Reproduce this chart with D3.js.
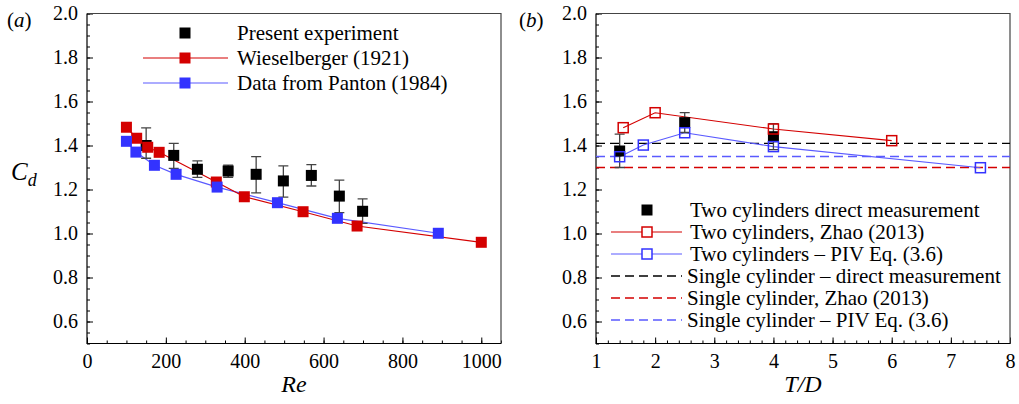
<!DOCTYPE html>
<html><head><meta charset="utf-8">
<script src="https://cdn.jsdelivr.net/npm/d3@7"></script>
<style>
body{margin:0;background:#fff;}
svg{display:block;font-family:"Liberation Serif","Times New Roman",serif;}
</style></head><body>
<svg id="chart" width="1019" height="404"></svg>
<script>
// ---- Panel (a) data ----
const reExp   = [150, 220, 280, 358, 429, 498, 569, 640, 699];
const cdExp   = [1.40, 1.355, 1.292, 1.284, 1.269, 1.239, 1.264, 1.170, 1.101];
const cdExpHi = [1.48, 1.41, 1.330, 1.311, 1.349, 1.307, 1.313, 1.243, 1.157];
const cdExpLo = [1.342, 1.296, 1.255, 1.255, 1.185, 1.165, 1.216, 1.095, 1.046];
const reWies  = [100, 126, 154, 183, 328, 399, 548, 685, 1000];
const cdWies  = [1.483, 1.433, 1.392, 1.369, 1.234, 1.167, 1.099, 1.034, 0.96];
const rePant  = [100, 124, 171, 226, 330, 483, 635, 891];
const cdPant  = [1.419, 1.370, 1.310, 1.269, 1.211, 1.140, 1.069, 1.001];
const reTicks = [0, 200, 400, 600, 800, 1000];
const cdTicks = [0.6, 0.8, 1.0, 1.2, 1.4, 1.6, 1.8, 2.0];
const legendA = ["Present experiment", "Wieselberger (1921)", "Data from Panton (1984)"];

// ---- Panel (b) data ----
const tdDirect   = [1.4, 2.5, 4.0];
const cdDirect   = [1.375, 1.504, 1.44];
const cdDirectHi = [1.452, 1.549, 1.499];
const cdDirectLo = [1.30, 1.459, 1.381];
const tdZhao  = [1.46, 2.0, 4.0, 6.0];
const cdZhao  = [1.481, 1.549, 1.475, 1.422];
const tdPIV   = [1.4, 1.8, 2.5, 4.0, 7.5];
const cdPIV   = [1.349, 1.402, 1.458, 1.395, 1.299];
const singleDirect = 1.41;
const singleZhao   = 1.30;
const singlePIV    = 1.35;
const tdTicks = [1, 2, 3, 4, 5, 6, 7, 8];
const legendB = ["Two cylinders direct measurement", "Two cylinders, Zhao (2013)",
  "Two cylinders \u2013 PIV Eq. (3.6)", "Single cylinder \u2013 direct measurement",
  "Single cylinder, Zhao (2013)", "Single cylinder \u2013 PIV Eq. (3.6)"];

const RED = "#d40000", BLUE = "#3333ff", BLUE_L = "#5a5aff";
const svg = d3.select("#chart");
const FS = 20, LFS = 21;

function frame(g, x, y, xMajor, xMinor, yMajor, yMinor, xFmt) {
  const [x0, x1] = x.range(), [y1, y0] = y.range();
  g.append("g").attr("transform", `translate(0,${y1})`)
    .call(d3.axisBottom(x).tickValues(xMinor).tickSize(-3).tickFormat(""))
    .call(a => a.select(".domain").remove());
  g.append("g").attr("transform", `translate(0,${y1})`)
    .call(d3.axisBottom(x).tickValues(xMajor).tickSize(-6).tickPadding(10).tickFormat(xFmt))
    .call(a => a.select(".domain").remove())
    .call(a => a.selectAll("text").attr("font-size", FS).attr("font-family", "Liberation Serif").attr("fill", "#000"));
  g.append("g").attr("transform", `translate(${x0},0)`)
    .call(d3.axisLeft(y).tickValues(yMinor).tickSize(-3).tickFormat(""))
    .call(a => a.select(".domain").remove());
  g.append("g").attr("transform", `translate(${x0},0)`)
    .call(d3.axisLeft(y).tickValues(yMajor).tickSize(-6).tickPadding(9).tickFormat(d3.format(".1f")))
    .call(a => a.select(".domain").remove())
    .call(a => a.selectAll("text").attr("font-size", FS).attr("font-family", "Liberation Serif").attr("fill", "#000"));
  g.selectAll(".tick line").attr("stroke", "#000");
  g.append("path").attr("d", `M${x0},${y0}H${x1}V${y1}`).attr("fill", "none").attr("stroke", "#444").attr("stroke-width", 1.2);
  g.append("path").attr("d", `M${x0},${y0}V${y1}H${x1}`).attr("fill", "none").attr("stroke", "#000").attr("stroke-width", 1.2);
}

function rng(a, b, s) { const r = []; for (let v = a; v <= b + 1e-9; v += s) r.push(+v.toFixed(4)); return r; }

// ================= Panel (a) =================
const xa = d3.scaleLinear().domain([0, 1050]).range([87, 501]);
const ya = d3.scaleLinear().domain([0.5, 2.0]).range([343.5, 13.5]);
const ga = svg.append("g");
frame(ga, xa, ya, reTicks, rng(0, 1050, 50), cdTicks, rng(0.5, 2.0, 0.05), d3.format("d"));

const line = (xs, ys, X, Y) => d3.line().x((d, i) => X(xs[i])).y((d, i) => Y(ys[i]))(xs);
ga.append("path").attr("d", line(rePant, cdPant, xa, ya)).attr("fill", "none").attr("stroke", BLUE_L).attr("stroke-width", 1.2);
ga.append("path").attr("d", line(reWies, cdWies, xa, ya)).attr("fill", "none").attr("stroke", RED).attr("stroke-width", 1.2);

function errbars(g, xs, hi, lo, X, Y) {
  xs.forEach((v, i) => {
    const cx = X(v);
    g.append("path").attr("d", `M${cx},${Y(hi[i])}V${Y(lo[i])}M${cx - 5},${Y(hi[i])}H${cx + 5}M${cx - 5},${Y(lo[i])}H${cx + 5}`)
      .attr("fill", "none").attr("stroke", "#444").attr("stroke-width", 1.3);
  });
}
function squares(g, xs, ys, X, Y, fill, stroke, s, sw) {
  g.selectAll(null).data(xs).join("rect")
    .attr("x", (d, i) => X(d) - s / 2).attr("y", (d, i) => Y(ys[i]) - s / 2)
    .attr("width", s).attr("height", s)
    .attr("fill", fill).attr("stroke", stroke).attr("stroke-width", sw);
}
errbars(ga, reExp, cdExpHi, cdExpLo, xa, ya);
squares(ga, reExp, cdExp, xa, ya, "#000", "none", 11, 0);
squares(ga, reWies, cdWies, xa, ya, RED, "none", 11, 0);
squares(ga, rePant, cdPant, xa, ya, BLUE, "none", 11, 0);

// legend (a)
const la = ga.append("g");
const laY = [33, 58, 83];
la.append("rect").attr("x", 185 - 5.5).attr("y", laY[0] - 5.5).attr("width", 11).attr("height", 11).attr("fill", "#000");
la.append("line").attr("x1", 143).attr("x2", 228).attr("y1", laY[1]).attr("y2", laY[1]).attr("stroke", RED).attr("stroke-width", 1.2);
la.append("rect").attr("x", 185 - 5.5).attr("y", laY[1] - 5.5).attr("width", 11).attr("height", 11).attr("fill", RED);
la.append("line").attr("x1", 143).attr("x2", 228).attr("y1", laY[2]).attr("y2", laY[2]).attr("stroke", BLUE_L).attr("stroke-width", 1.2);
la.append("rect").attr("x", 185 - 5.5).attr("y", laY[2] - 5.5).attr("width", 11).attr("height", 11).attr("fill", BLUE);
legendA.forEach((t, i) => la.append("text").attr("x", 237).attr("y", laY[i]).attr("dy", "0.35em").attr("font-size", LFS).text(t));

// labels (a)
svg.append("text").attr("x", 7).attr("y", 27).attr("font-size", 21).html('(<tspan font-style="italic">a</tspan>)');
svg.append("text").attr("x", (87 + 501) / 2).attr("y", 392).attr("text-anchor", "middle").attr("font-size", 24).attr("font-style", "italic").text("Re");
const cd = svg.append("text").attr("x", 11).attr("y", 180).attr("font-size", 25).attr("font-style", "italic");
cd.append("tspan").text("C");
cd.append("tspan").attr("dy", 6).attr("font-size", 18).text("d");

// ================= Panel (b) =================
const xb = d3.scaleLinear().domain([1, 8]).range([596, 1010]);
const yb = d3.scaleLinear().domain([0.5, 2.0]).range([343.5, 13.5]);
const gb = svg.append("g");
frame(gb, xb, yb, tdTicks, rng(1, 8, 0.2), cdTicks, rng(0.5, 2.0, 0.05), d3.format("d"));

const hline = (v, color) => gb.append("line").attr("x1", xb(1)).attr("x2", xb(8)).attr("y1", yb(v)).attr("y2", yb(v))
  .attr("stroke", color).attr("stroke-width", 1.3).attr("stroke-dasharray", "9,5");
hline(singleDirect, "#000");
hline(singlePIV, BLUE_L);
hline(singleZhao, RED);

gb.append("path").attr("d", line(tdZhao, cdZhao, xb, yb)).attr("fill", "none").attr("stroke", RED).attr("stroke-width", 1.1);
gb.append("path").attr("d", line(tdPIV, cdPIV, xb, yb)).attr("fill", "none").attr("stroke", BLUE_L).attr("stroke-width", 1.1);
errbars(gb, tdDirect, cdDirectHi, cdDirectLo, xb, yb);
squares(gb, tdDirect, cdDirect, xb, yb, "#000", "none", 11, 0);
squares(gb, tdZhao, cdZhao, xb, yb, "none", RED, 10, 1.5);
squares(gb, tdPIV, cdPIV, xb, yb, "none", BLUE, 10, 1.5);

// legend (b)
const lb = gb.append("g");
const lbY = [210, 232, 254, 276, 298, 320];
const lx0 = 611, lx1 = 682, lmx = 647;
lb.append("rect").attr("x", lmx - 5.5).attr("y", lbY[0] - 5.5).attr("width", 11).attr("height", 11).attr("fill", "#000");
lb.append("line").attr("x1", lx0).attr("x2", lx1).attr("y1", lbY[1]).attr("y2", lbY[1]).attr("stroke", RED).attr("stroke-width", 1.1);
lb.append("rect").attr("x", lmx - 5).attr("y", lbY[1] - 5).attr("width", 10).attr("height", 10).attr("fill", "#fff").attr("stroke", RED).attr("stroke-width", 1.5);
lb.append("line").attr("x1", lx0).attr("x2", lx1).attr("y1", lbY[2]).attr("y2", lbY[2]).attr("stroke", BLUE_L).attr("stroke-width", 1.1);
lb.append("rect").attr("x", lmx - 5).attr("y", lbY[2] - 5).attr("width", 10).attr("height", 10).attr("fill", "#fff").attr("stroke", BLUE).attr("stroke-width", 1.5);
[["#000", 3], [RED, 4], [BLUE_L, 5]].forEach(([c, i]) =>
  lb.append("line").attr("x1", lx0).attr("x2", lx1).attr("y1", lbY[i]).attr("y2", lbY[i]).attr("stroke", c).attr("stroke-width", 1.3).attr("stroke-dasharray", "9,5"));
legendB.forEach((t, i) => lb.append("text").attr("x", i >= 3 ? 687 : 690).attr("y", lbY[i]).attr("dy", "0.35em").attr("font-size", LFS).text(t));

svg.append("text").attr("x", 519).attr("y", 27).attr("font-size", 21).html('(<tspan font-style="italic">b</tspan>)');
svg.append("text").attr("x", (596 + 1010) / 2).attr("y", 392).attr("text-anchor", "middle").attr("font-size", 24).attr("font-style", "italic").text("T/D");
</script>
</body></html>
